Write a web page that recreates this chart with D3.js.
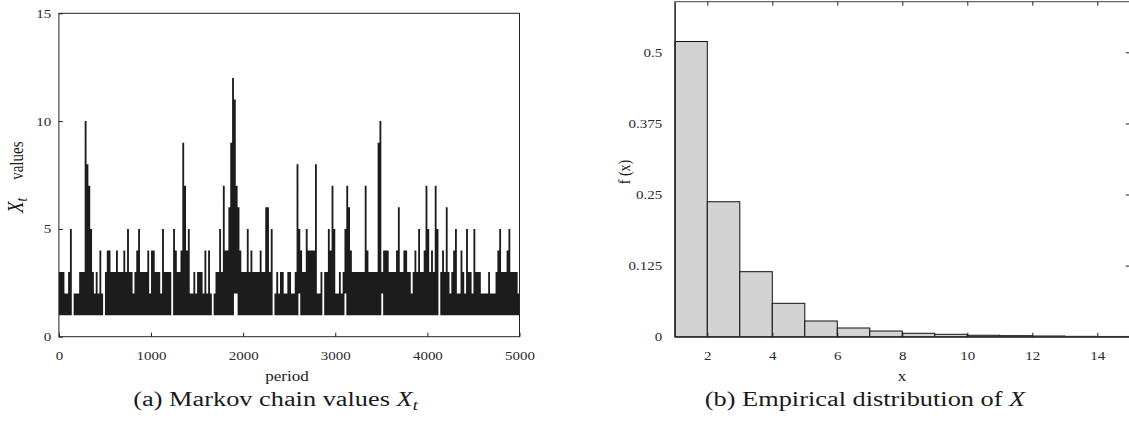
<!DOCTYPE html>
<html>
<head>
<meta charset="utf-8">
<script src="https://cdn.jsdelivr.net/npm/d3@7"></script>
<style>
  body { margin: 0; background: #fff; }
  text { font-family: "Liberation Serif", "Times New Roman", serif; }
</style>
</head>
<body>
<script>
// ---- data ----
// Markov chain trace, summarised per 20-period window: highest and lowest value seen
const binSize = 20
const chainHigh = [
  3,3,3,2,2,3,5,2,2,2, 2,3,3,3,10,8,7,5,3,2, 3,2,4,2,2,3,4,4,3,3, 3,4,3,3,3,4,3,5,3,3,
  2,3,4,5,3,3,3,3,4,2, 4,4,3,3,3,2,5,3,3,3, 3,2,5,4,3,3,4,9,7,4, 5,2,2,3,2,3,3,3,2,4,
  2,4,2,2,2,3,3,5,3,7, 4,4,6,9,12,11,7,6,4,3, 3,3,5,3,4,3,3,3,3,4, 3,3,6,6,3,5,2,2,3,2,
  3,3,2,2,3,3,2,2,3,8, 5,4,3,3,5,4,4,4,4,8, 2,2,3,2,3,3,5,4,7,5, 2,2,3,2,3,5,7,6,4,3,
  3,3,3,3,3,3,7,4,3,3, 3,3,3,9,10,3,4,4,4,3, 3,3,3,4,6,3,3,4,4,3, 3,2,3,4,3,5,3,3,4,7,
  5,3,4,3,7,5,2,3,4,3, 6,3,2,3,4,5,2,2,4,3, 2,5,3,3,2,5,3,3,3,2, 2,2,2,3,2,2,2,3,4,5,
  3,3,3,4,5,3,3,3,3,2
]
const chainLow = [
  1,1,1,1,1,1,1,2,1,1, 1,1,1,1,1,1,1,1,1,1, 1,1,1,1,2,1,1,1,1,1, 1,1,1,1,1,1,1,1,1,1,
  1,1,1,1,1,1,1,1,1,1, 1,1,1,1,1,1,1,1,1,1, 1,2,1,1,1,1,1,1,1,1, 1,1,1,1,1,1,1,1,1,1,
  1,1,1,2,1,1,1,1,1,1, 1,1,1,1,1,2,2,1,1,1, 1,1,1,1,1,1,1,1,1,1, 1,1,1,1,1,1,2,1,1,1,
  1,1,1,1,1,1,1,1,1,1, 2,1,1,1,1,1,1,1,1,1, 1,1,1,2,1,1,1,1,1,1, 1,1,1,1,1,2,1,1,1,1,
  1,1,1,1,1,1,1,1,1,1, 1,1,1,1,1,2,1,1,1,1, 1,1,1,1,1,1,1,1,1,1, 1,1,1,1,1,1,1,1,1,1,
  1,1,1,1,1,1,2,1,1,1, 1,1,1,1,1,1,1,1,1,1, 1,1,1,1,1,1,1,1,1,1, 1,1,1,1,1,1,1,1,1,1,
  1,1,1,1,1,1,1,1,1,1
]
const chainXTicks = [0, 1000, 2000, 3000, 4000, 5000]
const chainYTicks = [0, 5, 10, 15]

// empirical distribution of X, one bin per integer [k, k+1)
const histStart = [1, 2, 3, 4, 5, 6, 7, 8, 9, 10, 11, 12, 13, 14]
const histFreq = [0.519, 0.2373, 0.1143, 0.0587, 0.0276, 0.0153, 0.0100, 0.0060, 0.0042, 0.0025, 0.0018, 0.0012, 0.0006, 0.0004]
const histXTicks = [2, 4, 6, 8, 10, 12, 14]
const histYTicks = [0, 0.125, 0.25, 0.375, 0.5]

// the figure is stretched sideways, text included
const SX = 1.22

let svg = d3.select("body").append("svg")
    .attr("width", 1129)
    .attr("height", 436)

function label(s, x, y, size, rotate, anchor) {
    return svg.append("text")
        .attr("transform", `translate(${x},${y}) scale(${SX},1)` + (rotate ? " rotate(-90)" : ""))
        .attr("font-size", size)
        .attr("text-anchor", anchor || "middle")
        .attr("fill", "#1a1a1a")
        .text(s)
}

function styleAxis(g, size) {
    g.attr("font-family", null).attr("font-size", size)
    g.selectAll("line").attr("stroke", "#222")
    g.selectAll("text").attr("fill", "#2a2a2a")
}

// ---------- (a) chain trace ----------
let xc = d3.scaleLinear().domain([0, 5000]).range([58.9, 519.5])
let yc = d3.scaleLinear().domain([0, 15]).range([336.7, 13.3])

let trace = chainHigh.map((h, i) => ({ t: i * binSize, lo: chainLow[i], hi: h }))
trace.push({ t: 5000, lo: chainLow[chainLow.length - 1], hi: chainHigh[chainHigh.length - 1] })

let area = d3.area()
    .x(d => xc(d.t))
    .y0(d => yc(d.lo))
    .y1(d => yc(d.hi))
    .curve(d3.curveStepAfter)

svg.append("path")
    .datum(trace)
    .attr("d", area)
    .attr("fill", "#1c1c1c")

svg.append("rect")
    .attr("x", xc(0)).attr("y", yc(15))
    .attr("width", xc(5000) - xc(0)).attr("height", yc(0) - yc(15))
    .attr("fill", "none").attr("stroke", "#222").attr("stroke-width", 1)

let axa = svg.append("g")
    .attr("transform", `translate(0,${yc(0)})`)
    .call(d3.axisBottom(xc).tickValues(chainXTicks).tickFormat(d3.format("d"))
        .tickSizeInner(-4).tickSizeOuter(0).tickPadding(14.5))
axa.select(".domain").remove()
axa.selectAll("text").attr("transform", `scale(${SX},1)`)
styleAxis(axa, 12.3)

let aya = svg.append("g")
    .attr("transform", `translate(${xc(0)},0)`)
    .call(d3.axisLeft(yc).tickValues(chainYTicks).tickSizeInner(-4).tickSizeOuter(0))
aya.select(".domain").remove()
aya.selectAll("text").attr("x", -7.7 / SX).attr("transform", `scale(${SX},1)`)
styleAxis(aya, 12.3)

label("period", 287, 380.7, 14)

// rotated y title: X_t lower, "values" higher up
let yla = label("", 23.3, 213, 19, true, "start")
yla.append("tspan").attr("font-style", "italic").text("X")
yla.append("tspan").attr("font-style", "italic").attr("font-size", 13).attr("dy", 3).text("t")
yla.append("tspan").attr("dy", -3).attr("dx", 18).attr("font-size", 15).text("values")

let capa = label("(a) Markov chain values ", 275.5, 406, 21.6)
capa.append("tspan").attr("font-style", "italic").text("X")
capa.append("tspan").attr("font-style", "italic").attr("font-size", 15).attr("dy", 4).text("t")

// ---------- (b) histogram ----------
let xh = d3.scaleLinear().domain([1, 15]).range([674.8, 1129.8])
let yh = d3.scaleLinear().domain([0, 0.589]).range([336.7, 1.7])

svg.append("g")
    .selectAll("rect")
    .data(histStart)
    .enter()
    .append("rect")
    .attr("x", d => xh(d))
    .attr("y", (d, i) => yh(histFreq[i]))
    .attr("width", d => xh(d + 1) - xh(d))
    .attr("height", (d, i) => yh(0) - yh(histFreq[i]))
    .attr("fill", "#d3d3d3")
    .attr("stroke", "#111")
    .attr("stroke-width", 1)

svg.append("rect")
    .attr("x", xh(1)).attr("y", yh(0.589))
    .attr("width", xh(15) - xh(1)).attr("height", yh(0) - yh(0.589))
    .attr("fill", "none").attr("stroke", "#444").attr("stroke-width", 1)

let axb = svg.append("g")
    .attr("transform", `translate(0,${yh(0)})`)
    .call(d3.axisBottom(xh).tickValues(histXTicks).tickSizeInner(-4).tickSizeOuter(0).tickPadding(14.5))
axb.select(".domain").attr("stroke", "#222")
axb.selectAll("text").attr("transform", `scale(${SX},1)`)
styleAxis(axb, 12.3)

let axbTop = svg.append("g")
    .attr("transform", `translate(0,${yh(0.589)})`)
    .call(d3.axisTop(xh).tickValues(histXTicks).tickSizeInner(-4).tickSizeOuter(0).tickFormat(""))
axbTop.select(".domain").remove()
styleAxis(axbTop, 12.3)

let aybRight = svg.append("g")
    .attr("transform", `translate(${xh(15)},0)`)
    .call(d3.axisRight(yh).tickValues(histYTicks.slice(1)).tickSizeInner(-4).tickSizeOuter(0).tickFormat(""))
aybRight.select(".domain").remove()
styleAxis(aybRight, 12.3)

let ayb = svg.append("g")
    .attr("transform", `translate(${xh(1)},0)`)
    .call(d3.axisLeft(yh).tickValues(histYTicks).tickSizeInner(0).tickSizeOuter(0).tickFormat(d => d))
ayb.select(".domain").attr("stroke", "#222")
ayb.selectAll("line").remove()
ayb.selectAll("text").attr("x", -12.5 / SX).attr("transform", `scale(${SX},1)`)
styleAxis(ayb, 12.3)

label("x", 902, 380.7, 14)
label("f (x)", 630, 172, 14, true)

let capb = label("(b) Empirical distribution of ", 865, 406, 21.6)
capb.append("tspan").attr("font-style", "italic").text("X")
</script>
</body>
</html>
